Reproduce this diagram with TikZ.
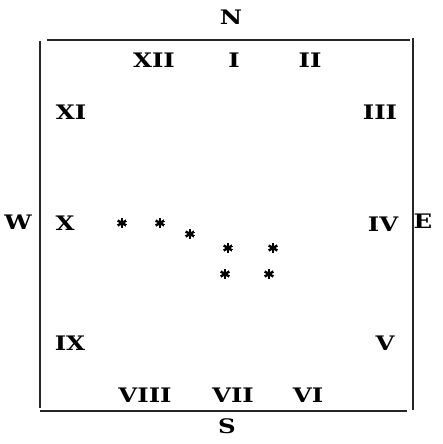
\documentclass[tikz,border=0pt]{standalone}
\usepackage{fontspec}
\newfontfamily\labfont{DejaVu Serif}[FakeStretch=1.22]
\begin{document}
\begin{tikzpicture}[x=1pt,y=-1pt,
  lab/.style={inner sep=0pt,font=\labfont\bfseries\fontsize{20}{20}\selectfont},
  frame/.style={line width=1.3pt,black!85},
  star/.style={circle,minimum size=11pt,inner sep=0pt,path picture={
     \foreach \a in {90,150,210}{\draw[line width=2.4pt]
       ([shift={(\a:5pt)}]path picture bounding box.center) --
       ([shift={(\a+180:5pt)}]path picture bounding box.center);}
     \fill (path picture bounding box.center) circle (2.6pt);}}]
\useasboundingbox (0,0) rectangle (442,444);
% frame
\coordinate (tl) at (47,40);  \coordinate (tr) at (410,40);
\coordinate (lt) at (40,41);  \coordinate (lb) at (40,408);
\coordinate (rt) at (413,38); \coordinate (rb) at (413,410);
\coordinate (bl) at (40,411); \coordinate (br) at (407,411);
\draw[frame] (tl) -- (tr);
\draw[frame] (lt) -- (lb);
\draw[frame] (rt) -- (rb);
\draw[frame] (bl) -- (br);
% compass
\node[lab] (N) at (231,17) {N};
\node[lab] (S) at (227,426) {S};
\node[lab] (W) at (18,222) {W};
\node[lab] (E) at (423,221) {E};
% hours
\node[lab] (h12) at (154,60) {XII};
\node[lab] (h1) at (234,60) {I};
\node[lab] (h2) at (310,60) {II};
\node[lab] (h11) at (71,112) {XI};
\node[lab] (h3) at (380,112) {III};
\node[lab] (h10) at (65,223) {X};
\node[lab] (h4) at (383,224) {IV};
\node[lab] (h9) at (70,343) {IX};
\node[lab] (h5) at (385,343) {V};
\node[lab] (h8) at (145,395) {VIII};
\node[lab] (h7) at (233,395) {VII};
\node[lab] (h6) at (308,395) {VI};
% stars
\node[star] (s1) at (122,223) {};
\node[star] (s2) at (160,223) {};
\node[star] (s3) at (190,234) {};
\node[star] (s4) at (228,248) {};
\node[star] (s5) at (273,248) {};
\node[star] (s6) at (225,274) {};
\node[star] (s7) at (269,274) {};
\end{tikzpicture}
\end{document}
